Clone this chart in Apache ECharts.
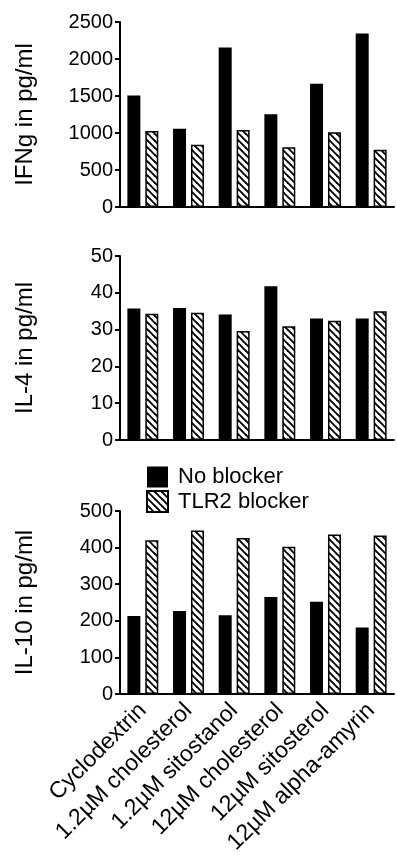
<!DOCTYPE html>
<html>
<head>
<meta charset="utf-8">
<script src="https://cdn.jsdelivr.net/npm/echarts@6/dist/echarts.min.js"></script>
<style>
html,body{margin:0;padding:0;background:#fff;}
#c{width:397px;height:855px;}
</style>
</head>
<body>
<div id="c"></div>
<script>
// ---- data ----
var categories = ['Cyclodextrin', '1.2µM cholesterol', '1.2µM sitostanol', '12µM cholesterol', '12µM sitosterol', '12µM alpha-amyrin'];
var seriesNames = ['No blocker', 'TLR2 blocker'];
var ifngNoBlocker = [1507, 1056, 2157, 1254, 1665, 2346];
var ifngTLR2 = [1027, 842, 1040, 806, 1009, 775];
var il4NoBlocker = [35.7, 35.9, 34.1, 41.8, 33.0, 33.0];
var il4TLR2 = [34.3, 34.6, 29.6, 30.9, 32.4, 35.0];
var il10NoBlocker = [213, 227, 215, 265, 252, 182];
var il10TLR2 = [420, 447, 426, 402, 436, 433];
var yTitles = ['IFNg in pg/ml', 'IL-4 in pg/ml', 'IL-10 in pg/ml'];
var yMax = [2500, 50, 500];
var yInterval = [500, 10, 100];

// ---- hatch pattern ----
var tile = document.createElement('canvas');
tile.width = 7; tile.height = 7;
var ctx = tile.getContext('2d');
ctx.fillStyle = '#fff';
ctx.fillRect(0, 0, 7, 7);
ctx.strokeStyle = '#000';
ctx.lineWidth = 1.9;
[-7, 0, 7].forEach(function (k) {
  ctx.beginPath();
  ctx.moveTo(k - 1, -1);
  ctx.lineTo(k + 8, 8);
  ctx.stroke();
});
var hatch = { image: tile, repeat: 'repeat' };

var FONT = 'Liberation Sans, Arial, sans-serif';
var grids = [
  { left: 120, width: 274, top: 22, height: 185, outerBoundsMode: 'none', containLabel: false },
  { left: 120, width: 274, top: 256, height: 184, outerBoundsMode: 'none', containLabel: false },
  { left: 120, width: 274, top: 511, height: 183, outerBoundsMode: 'none', containLabel: false }
];
var xAxes = [], yAxes = [], series = [];
var dataPairs = [[ifngNoBlocker, ifngTLR2], [il4NoBlocker, il4TLR2], [il10NoBlocker, il10TLR2]];
for (var i = 0; i < 3; i++) {
  xAxes.push({
    type: 'category', gridIndex: i, data: categories,
    axisLine: { lineStyle: { color: '#000', width: 2 } },
    axisTick: { alignWithLabel: true, length: 7, lineStyle: { color: '#000', width: 2 } },
    axisLabel: i === 2 ? { rotate: 45, interval: 0, margin: 13, color: '#000', fontSize: 23, fontFamily: FONT } : { show: false }
  });
  yAxes.push({
    type: 'value', gridIndex: i, min: 0, max: yMax[i], interval: yInterval[i],
    name: yTitles[i], nameLocation: 'middle', nameGap: 83,
    nameTextStyle: { fontSize: 24, color: '#000', fontFamily: FONT },
    splitLine: { show: false },
    axisLine: { show: true, lineStyle: { color: '#000', width: 2 } },
    axisTick: { show: true, length: 5, lineStyle: { color: '#000', width: 2 } },
    axisLabel: { margin: 7, color: '#000', fontSize: 20, fontFamily: FONT, formatter: function (v) { return String(v); } }
  });
  series.push({
    type: 'bar', name: seriesNames[0], xAxisIndex: i, yAxisIndex: i,
    data: dataPairs[i][0], barWidth: 13, barGap: '38%',
    itemStyle: { color: '#000' }
  });
  series.push({
    type: 'bar', name: seriesNames[1], xAxisIndex: i, yAxisIndex: i,
    data: dataPairs[i][1], barWidth: 13, barGap: '38%',
    itemStyle: { color: hatch, borderColor: '#000', borderWidth: 1.5 }
  });
}

var chart = echarts.init(document.getElementById('c'), null, { renderer: 'canvas' });
chart.setOption({
  backgroundColor: '#fff',
  animation: false,
  textStyle: { fontFamily: FONT },
  legend: {
    data: seriesNames, orient: 'vertical', left: 141, top: 461,
    itemWidth: 21, itemHeight: 21, itemGap: 2, icon: 'rect',
    textStyle: { fontSize: 22, color: '#000', fontFamily: FONT, padding: [0, 0, 0, 5] }
  },
  grid: grids,
  xAxis: xAxes,
  yAxis: yAxes,
  series: series
});
</script>
</body>
</html>
